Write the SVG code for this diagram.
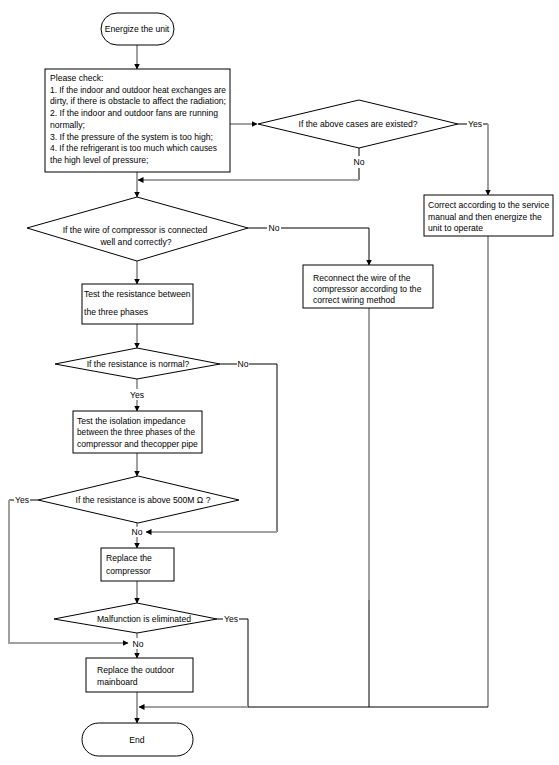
<svg xmlns="http://www.w3.org/2000/svg" width="559" height="765" viewBox="0 0 559 765">
<defs>
<style>
.n{fill:#fff;stroke:#000;stroke-width:1}
.t{font-family:"Liberation Sans",Arial,sans-serif;font-size:8.6px;fill:#000}
.c{text-anchor:middle}
.g{fill:none;stroke:#a0a0a0;stroke-width:2}
.k{fill:none;stroke:#000;stroke-width:1}
</style>
<marker id="a" viewBox="0 0 6 6" refX="5.5" refY="3" markerWidth="6" markerHeight="6" markerUnits="userSpaceOnUse" orient="auto">
<path d="M0,0 L6,3 L0,6 z" fill="#000"/>
</marker>
</defs>
<rect width="559" height="765" fill="#fff"/>
<g id="connectors">
<line class="g" x1="137" y1="45" x2="137" y2="69" marker-end="url(#a)"/>
<line class="g" x1="230" y1="124" x2="257" y2="124" marker-end="url(#a)"/>
<polyline class="k" points="458,124 467,124"/>
<polyline class="k" points="483,124 488,124"/>
<line class="g" x1="488" y1="124" x2="488" y2="195" marker-end="url(#a)"/>
<line class="k" x1="359" y1="148" x2="359" y2="156"/>
<polyline class="k" points="359,168 359,180"/>
<line class="g" x1="359" y1="180" x2="138" y2="180" marker-end="url(#a)"/>
<line class="g" x1="137" y1="172" x2="137" y2="197" marker-end="url(#a)"/>
<line class="k" x1="248" y1="228" x2="267" y2="228"/>
<polyline class="k" points="281,228 369,228 369,265" marker-end="url(#a)"/>
<line class="g" x1="137" y1="261" x2="137" y2="284" marker-end="url(#a)"/>
<line class="g" x1="137" y1="324" x2="137" y2="348" marker-end="url(#a)"/>
<line class="k" x1="220" y1="364" x2="237" y2="364"/>
<polyline class="k" points="249,364 277,364 277,532"/>
<line class="g" x1="277" y1="532" x2="146" y2="532" marker-end="url(#a)"/>
<line class="g" x1="137" y1="379" x2="137" y2="389"/>
<line class="g" x1="137" y1="400" x2="137" y2="411" marker-end="url(#a)"/>
<line class="g" x1="137" y1="453" x2="137" y2="476" marker-end="url(#a)"/>
<line class="k" x1="38" y1="500" x2="30" y2="500"/>
<line class="k" x1="14" y1="500" x2="9" y2="500"/>
<polyline class="g" points="9,500 9,643 128,643" marker-end="url(#a)"/>
<line class="g" x1="137" y1="523" x2="137" y2="527"/>
<line class="g" x1="137" y1="537" x2="137" y2="548" marker-end="url(#a)"/>
<line class="g" x1="137" y1="581" x2="137" y2="603" marker-end="url(#a)"/>
<line class="k" x1="217" y1="619" x2="223" y2="619"/>
<polyline class="k" points="239,619 248,619 248,707"/>
<line class="g" x1="137" y1="633" x2="137" y2="638"/>
<line class="g" x1="137" y1="649" x2="137" y2="658" marker-end="url(#a)"/>
<line class="g" x1="137" y1="692" x2="137" y2="723" marker-end="url(#a)"/>
<line class="g" x1="369" y1="308" x2="369" y2="600"/>
<line class="k" x1="369" y1="600" x2="369" y2="707"/>
<line class="g" x1="488" y1="236" x2="488" y2="707"/>
<line class="k" x1="488" y1="707" x2="248" y2="707"/>
<line class="g" x1="248" y1="707" x2="139" y2="707" marker-end="url(#a)"/>
</g>
<g id="labels" class="t">
<text x="475" y="127" class="c">Yes</text>
<text x="359" y="165" class="c">No</text>
<text x="274" y="231" class="c">No</text>
<text x="243" y="367" class="c">No</text>
<text x="137" y="398" class="c">Yes</text>
<text x="22" y="503" class="c">Yes</text>
<text x="137" y="535" class="c">No</text>
<text x="231" y="622" class="c">Yes</text>
<text x="138" y="647" class="c">No</text>
</g>
<g id="start">
<rect class="n" x="101" y="13" width="73" height="32" rx="16"/>
<text class="t c" x="137" y="32">Energize the unit</text>
</g>
<g id="check">
<rect class="n" x="45" y="69" width="185" height="103"/>
<text class="t" x="50" y="81">Please check:</text>
<text class="t" x="50" y="93" textLength="176" lengthAdjust="spacingAndGlyphs">1. If the indoor and outdoor heat exchanges are</text>
<text class="t" x="50" y="104" textLength="176" lengthAdjust="spacingAndGlyphs">dirty, if there is obstacle to affect the radiation;</text>
<text class="t" x="50" y="116" textLength="168" lengthAdjust="spacingAndGlyphs">2. If the indoor and outdoor fans are running</text>
<text class="t" x="50" y="128">normally;</text>
<text class="t" x="50" y="140" textLength="163" lengthAdjust="spacingAndGlyphs">3. If the pressure of the system is too high;</text>
<text class="t" x="50" y="151" textLength="167" lengthAdjust="spacingAndGlyphs">4. If the refrigerant is too much which causes</text>
<text class="t" x="50" y="163">the high level of pressure;</text>
</g>
<g id="dec1">
<polygon class="n" points="258,124 359,100 458,124 359,148"/>
<text class="t c" x="358" y="127">If the above cases are existed?</text>
</g>
<g id="correct">
<rect class="n" x="424" y="195" width="129" height="41"/>
<text class="t" x="428" y="208">Correct according to the service</text>
<text class="t" x="428" y="220">manual and then energize the</text>
<text class="t" x="428" y="231">unit to operate</text>
</g>
<g id="dec2">
<polygon class="n" points="27,228 137,197 248,228 137,261"/>
<text class="t c" x="135" y="233">If the wire of compressor is connected</text>
<text class="t c" x="136" y="245">well and correctly?</text>
</g>
<g id="reconnect">
<rect class="n" x="303" y="265" width="130" height="43"/>
<text class="t" x="313" y="281">Reconnect the wire of the</text>
<text class="t" x="313" y="292">compressor according to the</text>
<text class="t" x="313" y="303">correct wiring method</text>
</g>
<g id="test1">
<rect class="n" x="82" y="284" width="111" height="40"/>
<text class="t" x="84" y="297">Test the resistance between</text>
<text class="t" x="84" y="315">the three phases</text>
</g>
<g id="dec3">
<polygon class="n" points="55,364 137,348 220,364 137,379"/>
<text class="t c" x="138" y="367">If the resistance is normal?</text>
</g>
<g id="test2">
<rect class="n" x="73" y="411" width="129" height="42"/>
<text class="t" x="77" y="424">Test the isolation impedance</text>
<text class="t" x="77" y="435" textLength="118" lengthAdjust="spacingAndGlyphs">between the three phases of the</text>
<text class="t" x="77" y="447">compressor and thecopper pipe</text>
</g>
<g id="dec4">
<polygon class="n" points="38,500 138,476 239,500 138,523"/>
<text class="t c" x="143" y="503">If the resistance is above 500M Ω ?</text>
</g>
<g id="replace">
<rect class="n" x="101" y="548" width="73" height="33"/>
<text class="t" x="106" y="561">Replace the</text>
<text class="t" x="106" y="574">compressor</text>
</g>
<g id="dec5">
<polygon class="n" points="54,619 137,603 217,619 137,633"/>
<text class="t c" x="144" y="622">Malfunction is eliminated</text>
</g>
<g id="mainboard">
<rect class="n" x="86" y="658" width="107" height="34"/>
<text class="t" x="97" y="673">Replace the outdoor</text>
<text class="t" x="97" y="685">mainboard</text>
</g>
<g id="end">
<rect class="n" x="82" y="723" width="111" height="33" rx="16.5"/>
<text class="t c" x="137" y="743">End</text>
</g>
</svg>
